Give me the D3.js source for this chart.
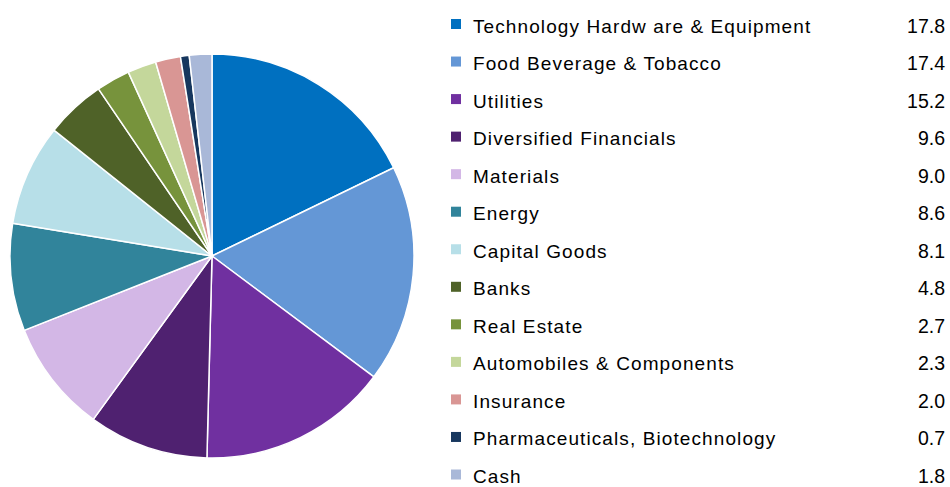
<!DOCTYPE html>
<html>
<head>
<meta charset="utf-8">
<script src="https://cdn.jsdelivr.net/npm/d3@7"></script>
<style>
  body { margin: 0; background: #fff; }
  svg { display: block; }
  text { font-family: "Liberation Sans", Arial, sans-serif; fill: #000; }
</style>
</head>
<body>
<svg id="chart" width="950" height="487"></svg>
<script>
const sectors = [
  'Technology Hardw are & Equipment',
  'Food Beverage & Tobacco',
  'Utilities',
  'Diversified Financials',
  'Materials',
  'Energy',
  'Capital Goods',
  'Banks',
  'Real Estate',
  'Automobiles & Components',
  'Insurance',
  'Pharmaceuticals, Biotechnology',
  'Cash',
];
const weights = [17.8, 17.4, 15.2, 9.6, 9.0, 8.6, 8.1, 4.8, 2.7, 2.3, 2.0, 0.7, 1.8];
const colors = [
  '#0070c0', '#6497d6', '#7030a0', '#4f2170', '#d3b7e6', '#31849b',
  '#b7dfe8', '#4f6228', '#77933c', '#c4d79b', '#d99694', '#17375e', '#a9b8d8',
];

const svg = d3.select('#chart');
const rows = sectors.map((name, i) => ({ name, value: weights[i], color: colors[i] }));

// pie, starts at 12 o'clock, clockwise, no sorting
const pie = d3.pie().sort(null).value((d) => d.value);
const arc = d3.arc().innerRadius(0).outerRadius(202);

svg.append('g')
  .attr('transform', 'translate(212,256)')
  .selectAll('path')
  .data(pie(rows))
  .join('path')
  .attr('d', arc)
  .attr('fill', (d) => d.data.color)
  .attr('stroke', '#fff')
  .attr('stroke-width', 1.5)
  .attr('stroke-linejoin', 'round');

// legend, y is the text baseline
const y = d3.scalePoint().domain(sectors).range([32.5, 483]);

const legend = svg.append('g')
  .selectAll('g')
  .data(rows)
  .join('g')
  .attr('transform', (d) => `translate(0,${y(d.name)})`);

legend.append('rect')
  .attr('x', 451)
  .attr('y', -13.5)
  .attr('width', 10)
  .attr('height', 10)
  .attr('fill', (d) => d.color);

legend.append('text')
  .attr('x', 473)
  .attr('font-size', 19)
  .attr('letter-spacing', 1.1)
  .text((d) => d.name);

legend.append('text')
  .attr('x', 945)
  .attr('font-size', 19.5)
  .attr('text-anchor', 'end')
  .text((d) => d3.format('.1f')(d.value));
</script>
</body>
</html>
